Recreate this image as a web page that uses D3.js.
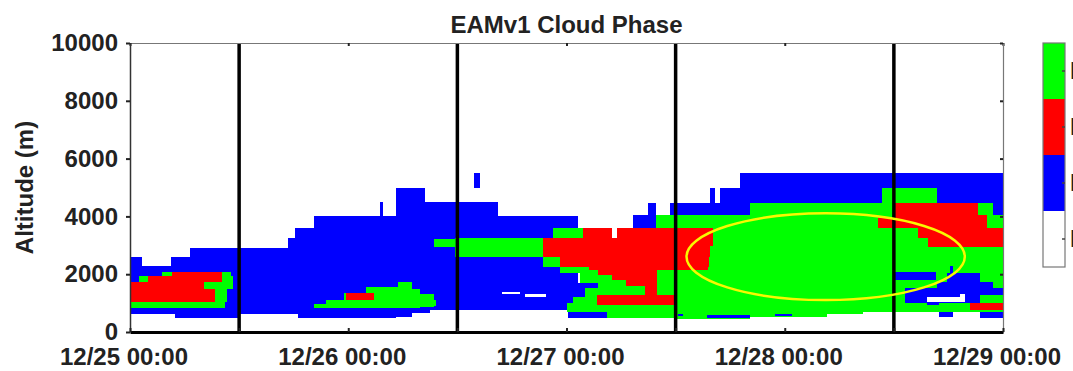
<!DOCTYPE html>
<html>
<head>
<meta charset="utf-8">
<title>EAMv1 Cloud Phase</title>
<script src="https://cdnjs.cloudflare.com/ajax/libs/d3/7.8.5/d3.min.js"></script>
<style>
body { margin:0; background:#fff; }
text { font-family:"Liberation Sans", Arial, sans-serif; font-weight:bold; fill:#222; }
</style>
</head>
<body>
<div id="vis"></div>
<script>
// cells: [hour start, hour end, altitude bottom (m), altitude top (m)], hours since 12/25 00:00
var ice = [
  [0,1.3,620,2600],[1.3,4.5,620,2300],[4.5,5,620,2600],[5,6.6,500,2600],
  [6.6,9.5,500,2900],[9.5,11,470,2900],[11,12,500,2900],[12,17.4,620,2900],
  [17.4,18.1,620,3240],[18.1,18.5,620,3600],[18.5,20.2,500,3600],[20.2,27.5,500,4000],
  [27.5,27.8,500,4500],[27.8,29.3,500,4000],[29.3,31,530,5000],[31,32.4,650,5000],
  [32.4,33,650,4500],[33,40.5,760,4500],[40.5,49.3,760,4000],[37.8,38.5,5000,5500],
  [49.3,51.5,1510,1690],[49.3,50,1220,1510],[48.2,52.5,500,700],
  [55.3,57,3590,4050],[57,57.8,3590,4450],[59.4,63.8,4050,4450],[63.8,64.3,4050,5000],
  [64.3,64.9,4050,4450],[64.9,67.1,4050,5000],[67.1,68.2,4050,5500],[68.2,96,4470,5500],
  [94.9,96,4050,4470]
];
var liquid = [
  [0,10.5,830,1050],[0,10.7,1050,1500],[0,11.3,1500,1740],[1,11.3,1740,1940],[3.5,11.1,1940,2090],
  [20.2,21.6,820,970],[21.6,23.5,820,1110],[23.5,26,820,1360],[26,29.5,820,1570],
  [29.5,31,820,1740],[31,31.9,820,1500],[31.9,33.4,870,1300],[33.4,33.7,900,1100],
  [33.4,35.7,2930,3220],[35.7,45.4,2600,3250],[45.4,47.3,2260,3250],[46.5,49.8,3250,3590],
  [47.3,60,2030,2260],[49.5,60,1690,2030],[51.5,60,1510,1690],[50,60,1220,1510],
  [48.7,60,990,1220],[48,60,700,990],[52.4,60,474,700],[57.8,60,3590,4050],
  [60,68.2,440,4050],[68.2,76.6,530,4470],[76.6,80.6,612,4470],[80.6,82.7,700,4470],
  [82.7,88.7,700,4970],[88.7,94.9,700,4470],[94.9,96,700,4050]
];
var mixed = [
  [0,9.4,1050,1500],[0,8.1,1500,1740],[2,10.1,1740,1940],[4.6,10.1,1940,2090],
  [23.8,26.8,1110,1360],
  [49.8,53,3250,3590],[53.5,64.1,3250,3590],[45.4,64.1,2960,3250],[45.4,63.8,2600,2960],
  [47.3,63.7,2260,2600],[50.5,63.6,2145,2260],[51.5,57.9,1970,2145],[53,57.9,1800,1970],
  [54.5,57.9,1600,1800],[56.6,57.9,1280,1600],[51.3,60,935,1280],
  [82.3,84,3590,3940],[84,93.3,4050,4450],[84,94.2,3590,4050],[86.7,96,3250,3590],
  [87.8,96,2930,3250],[92.4,96,760,990]
];
var iceTop = [
  [60.3,60.8,560,620],[63.4,68.2,500,600],[70.9,72.8,560,640],
  [84,88.6,1800,2090],[90.2,90.5,2030,2280],[89.8,93.5,1740,2030],[88.7,94.9,1510,1740],
  [85.2,96,1280,1510],[85.2,93.5,1000,1280],[87.6,89,930,1000],[89,90.5,530,700],[93.5,96,470,700]
];
var clear = [
  [40.9,42.9,1310,1390],[43.4,45.8,1200,1310],[87.6,91.8,1050,1220],[91.3,91.8,1220,1300]
];

var dayTicks = [0, 24, 48, 72, 96];
var dayLabels = ["12/25 00:00", "12/26 00:00", "12/27 00:00", "12/28 00:00", "12/29 00:00"];
var noonLines = [12, 36, 60, 84];
var altTicks = [0, 2000, 4000, 6000, 8000, 10000];
var phases = ["Liquid", "Mixed", "Ice", "No Cloud"];
var phaseColors = ["#00ff00", "#ff0000", "#0000ff", "#ffffff"];
// circled region: centre hour, centre altitude, half width (h), half height (m)
var circled = [76.5, 2605, 15.3, 1500];

var W = 1073, H = 371;
var L = 130, R = 1003, T = 43, B = 332;

var svg = d3.select("#vis").append("svg").attr("width", W).attr("height", H);

var x = d3.scaleLinear().domain([0, 96]).range([L, R]);
var y = d3.scaleLinear().domain([0, 10000]).range([B, T]);

function cells(data, color) {
  svg.append("g").selectAll("rect").data(data).enter().append("rect")
    .attr("x", function(d) { return x(d[0]); })
    .attr("width", function(d) { return x(d[1]) - x(d[0]); })
    .attr("y", function(d) { return y(d[3]); })
    .attr("height", function(d) { return y(d[2]) - y(d[3]); })
    .attr("fill", color)
    .attr("shape-rendering", "crispEdges");
}
cells(ice, phaseColors[2]);
cells(liquid, phaseColors[0]);
cells(mixed, phaseColors[1]);
cells(iceTop, phaseColors[2]);
cells(clear, phaseColors[3]);

// noon separators
svg.selectAll("line.noon").data(noonLines).enter().append("line")
  .attr("class", "noon")
  .attr("x1", function(d) { return x(d); }).attr("x2", function(d) { return x(d); })
  .attr("y1", y(10000)).attr("y2", y(0))
  .attr("stroke", "#000").attr("stroke-width", 3.5);

// yellow ellipse
svg.append("ellipse")
  .attr("cx", x(circled[0])).attr("cy", y(circled[1]))
  .attr("rx", x(circled[2]) - x(0)).attr("ry", y(0) - y(circled[3]))
  .attr("fill", "none").attr("stroke", "#f8f800").attr("stroke-width", 2.5);

// frame: top and right
var topAx = svg.append("g").attr("transform", "translate(0," + T + ")")
  .call(d3.axisTop(x).tickValues(dayTicks).tickSize(-3).tickSizeOuter(0).tickFormat(""));
topAx.select(".domain").attr("stroke", "#777").attr("stroke-width", 1.2);
topAx.selectAll(".tick line").attr("stroke", "#222").attr("stroke-width", 2);

var rightAx = svg.append("g").attr("transform", "translate(" + R + ",0)")
  .call(d3.axisRight(y).tickValues(altTicks).tickSize(-3).tickSizeOuter(0).tickFormat(""));
rightAx.select(".domain").attr("stroke", "#777").attr("stroke-width", 1.2);
rightAx.selectAll(".tick line").attr("stroke", "#222").attr("stroke-width", 2);

// left axis
var leftAx = svg.append("g").attr("transform", "translate(" + L + ",0)")
  .call(d3.axisLeft(y).tickValues(altTicks).tickSize(4).tickPadding(8).tickSizeOuter(0)
    .tickFormat(d3.format("d")));
leftAx.select(".domain").attr("stroke", "#333").attr("stroke-width", 1.5);
leftAx.selectAll(".tick line").attr("stroke", "#222").attr("stroke-width", 2);
leftAx.selectAll("text").attr("font-size", 24).style("font-family", "'Liberation Sans', Arial, sans-serif")
  .style("font-weight", "bold").attr("fill", "#222");

// bottom axis
var bottomAx = svg.append("g").attr("transform", "translate(0," + B + ")")
  .call(d3.axisBottom(x).tickValues(dayTicks.concat(noonLines)).tickSize(-4).tickSizeOuter(0).tickFormat(""));
bottomAx.select(".domain").attr("stroke", "#000").attr("stroke-width", 3);
bottomAx.selectAll(".tick line").attr("stroke", "#222").attr("stroke-width", 2);

svg.selectAll("text.day").data(dayTicks).enter().append("text")
  .attr("class", "day")
  .attr("x", function(d) { return x(d) - 6; })
  .attr("y", 365)
  .attr("text-anchor", "middle")
  .attr("font-size", 24)
  .text(function(d, i) { return dayLabels[i]; });

// title and y label
svg.append("text").attr("x", (L + R) / 2).attr("y", 33).attr("text-anchor", "middle")
  .attr("font-size", 24).text("EAMv1 Cloud Phase");
svg.append("text").attr("transform", "translate(33," + ((T + B) / 2) + ") rotate(-90)")
  .attr("text-anchor", "middle").attr("font-size", 24).text("Altitude (m)");

// colour bar
var band = d3.scaleBand().domain(phases).range([43, 267]);
var bar = svg.append("g");
bar.selectAll("rect").data(phases).enter().append("rect")
  .attr("x", 1043).attr("width", 22)
  .attr("y", function(d) { return band(d); })
  .attr("height", band.bandwidth())
  .attr("fill", function(d, i) { return phaseColors[i]; })
  .attr("shape-rendering", "crispEdges");
bar.append("rect").attr("x", 1043).attr("y", 43).attr("width", 22).attr("height", 224)
  .attr("fill", "none").attr("stroke", "#777").attr("stroke-width", 1.2);
bar.selectAll("line").data(phases).enter().append("line")
  .attr("x1", 1062).attr("x2", 1065)
  .attr("y1", function(d) { return band(d) + band.bandwidth() / 2; })
  .attr("y2", function(d) { return band(d) + band.bandwidth() / 2; })
  .attr("stroke", "#444").attr("stroke-width", 1.5);
bar.selectAll("text").data(phases).enter().append("text")
  .attr("x", 1070)
  .attr("y", function(d) { return band(d) + band.bandwidth() / 2 + 8; })
  .attr("font-size", 24)
  .text(function(d) { return d; });
</script>
</body>
</html>
